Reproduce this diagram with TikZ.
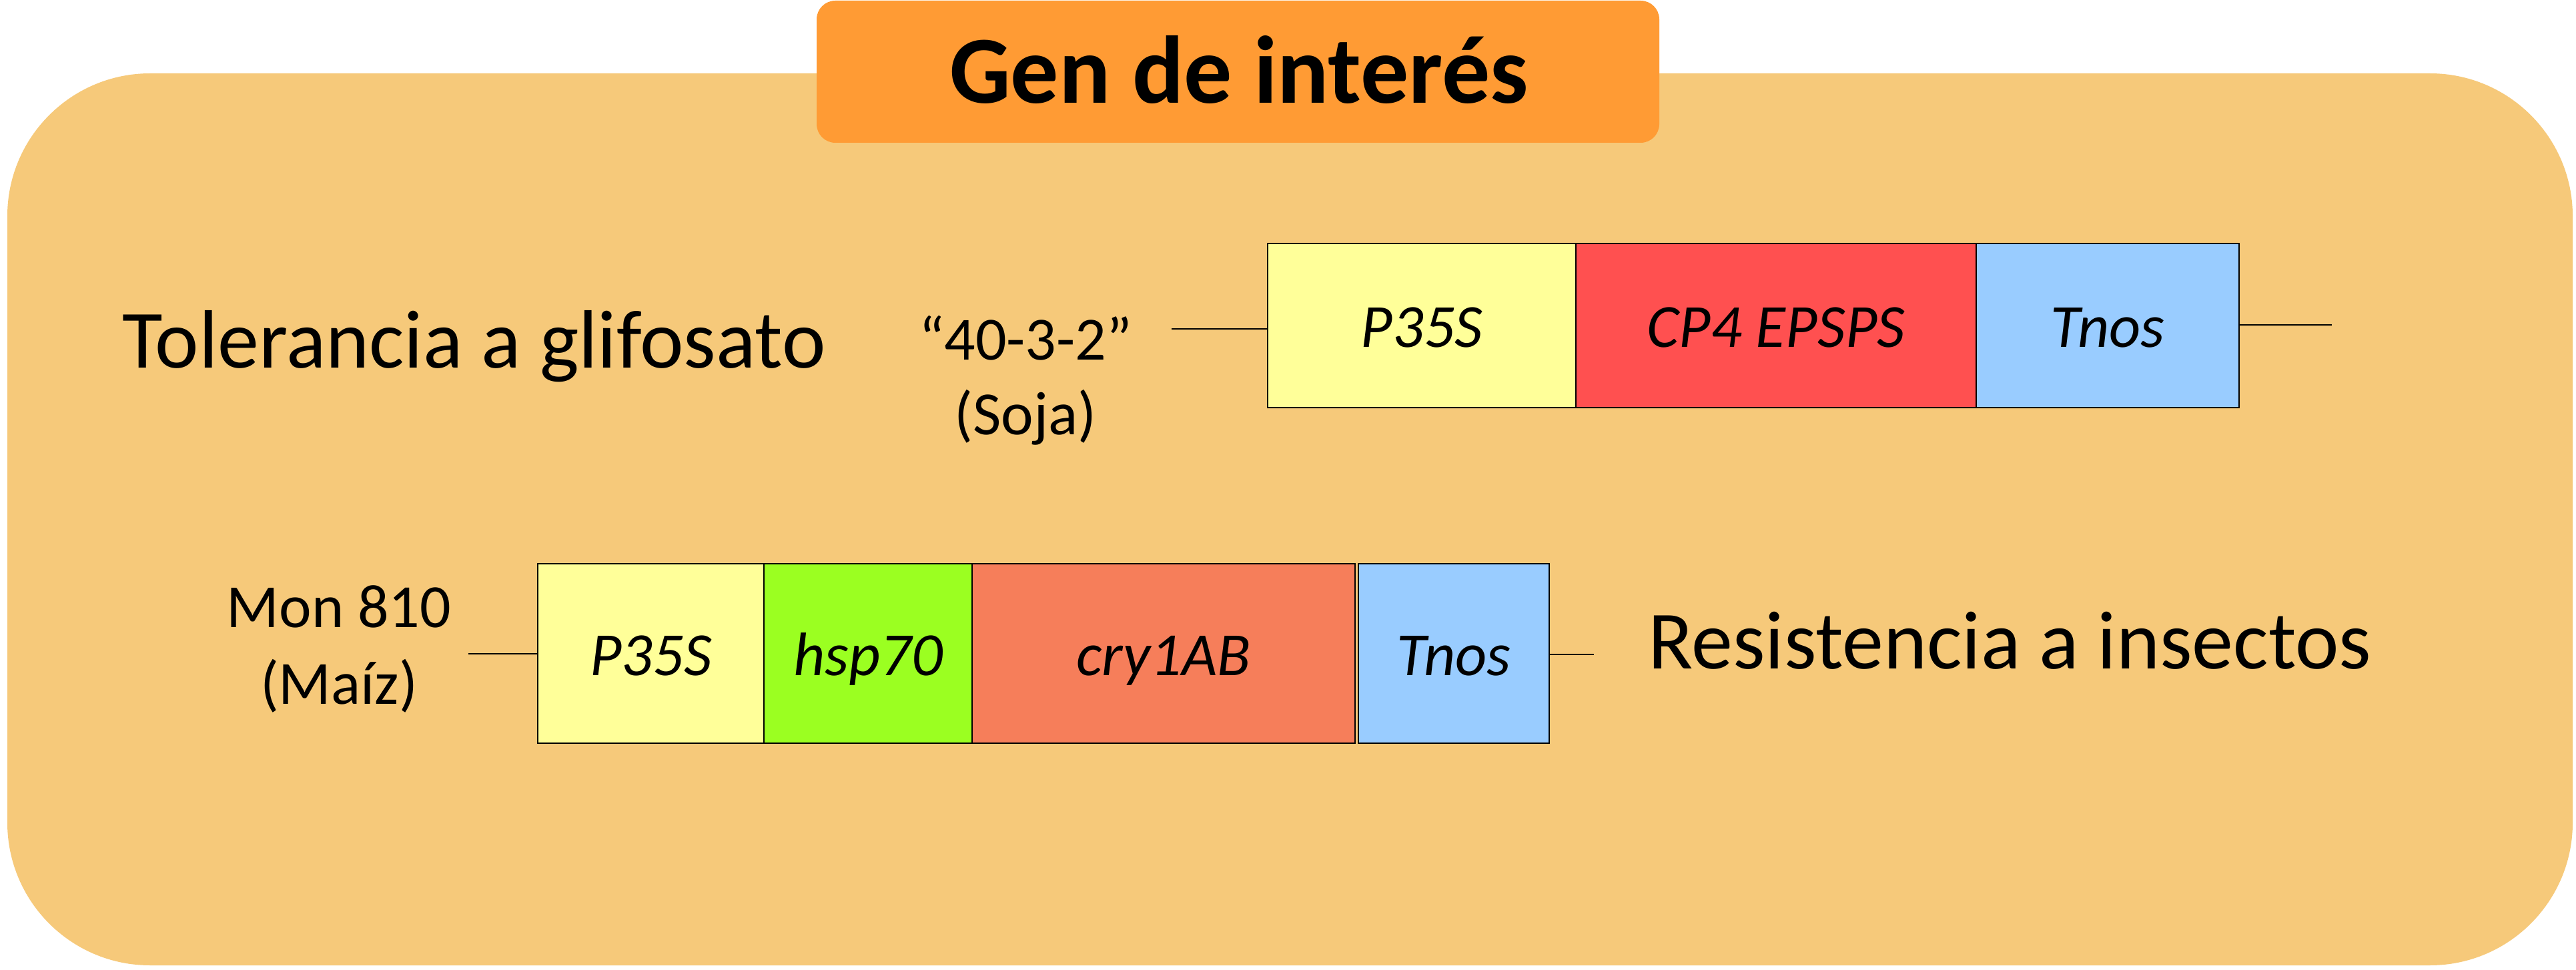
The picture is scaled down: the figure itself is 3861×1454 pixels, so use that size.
\documentclass[tikz,border=0pt]{standalone}
\usepackage{fontspec}
\setmainfont{Carlito}
\definecolor{panel}{RGB}{246,201,122}
\definecolor{titleor}{RGB}{255,155,52}
\definecolor{gyellow}{RGB}{255,255,153}
\definecolor{gred}{RGB}{255,80,80}
\definecolor{gblue}{RGB}{153,204,255}
\definecolor{ggreen}{RGB}{155,255,33}
\definecolor{gsalmon}{RGB}{246,126,90}
\begin{document}
\begin{tikzpicture}[x=0.5pt,y=-0.5pt,
  gene/.style={draw=black, line width=1.2pt, inner sep=0pt, text height=33pt, text depth=0pt,
     font=\fontsize{46pt}{55pt}\selectfont\itshape},
  small/.style={inner sep=0pt, anchor=base, font=\fontsize{46pt}{55pt}\selectfont},
  big/.style={inner sep=0pt, anchor=base west, font=\fontsize{62pt}{74pt}\selectfont},
  wire/.style={line width=1.3pt}]
\useasboundingbox (0,0) rectangle (3861,1454);
\fill[white] (0,0) rectangle (3861,1454);
% panel
\fill[panel, rounded corners=107pt] (11,110) rectangle (3856,1447);
% title
\fill[titleor, rounded corners=14pt] (1224,1) rectangle (2487,214);
\node[inner sep=0pt, anchor=base, font=\fontsize{72pt}{86pt}\selectfont\bfseries] (title) at (1857,155) {Gen de interés};
% row 1
\node[big] (tol) at (183,552) {Tolerancia a glifosato};
\node[small] (ev1) at (1537,540) {“40-3-2”};
\node[small] (sp1) at (1537,652) {(Soja)};
\node[gene, fill=gyellow, minimum width=231pt, minimum height=123pt] (a1) at (2131,488) {P35S};
\node[gene, fill=gred, minimum width=300pt, minimum height=123pt] (a2) at (2662,488) {CP4 EPSPS};
\node[gene, fill=gblue, minimum width=197pt, minimum height=123pt] (a3) at (3159,488) {Tnos};
\coordinate (l1) at (1756,493);
\coordinate (r1) at (3495,487);
\draw[wire] (l1) -- (l1 -| a1.west);
\draw[wire] (a3.east |- r1) -- (r1);
% row 2
\node[small] (ev2) at (508,940) {Mon 810};
\node[small] (sp2) at (508,1055) {(Maíz)};
\node[gene, fill=gyellow, minimum width=169.5pt, minimum height=134.5pt] (b1) at (975.5,979.5) {P35S};
\node[gene, fill=ggreen, minimum width=156pt, minimum height=134.5pt] (b2) at (1301,979.5) {hsp70};
\node[gene, fill=gsalmon, minimum width=287pt, minimum height=134.5pt] (b3) at (1744,979.5) {cry1AB};
\node[gene, fill=gblue, minimum width=143pt, minimum height=134.5pt] (b4) at (2179,979.5) {Tnos};
\coordinate (l2) at (702,980);
\coordinate (r2) at (2389,981);
\draw[wire] (l2) -- (l2 -| b1.west);
\draw[wire] (b4.east |- r2) -- (r2);
\node[big] (res) at (2470,1002) {Resistencia a insectos};
\end{tikzpicture}
\end{document}
